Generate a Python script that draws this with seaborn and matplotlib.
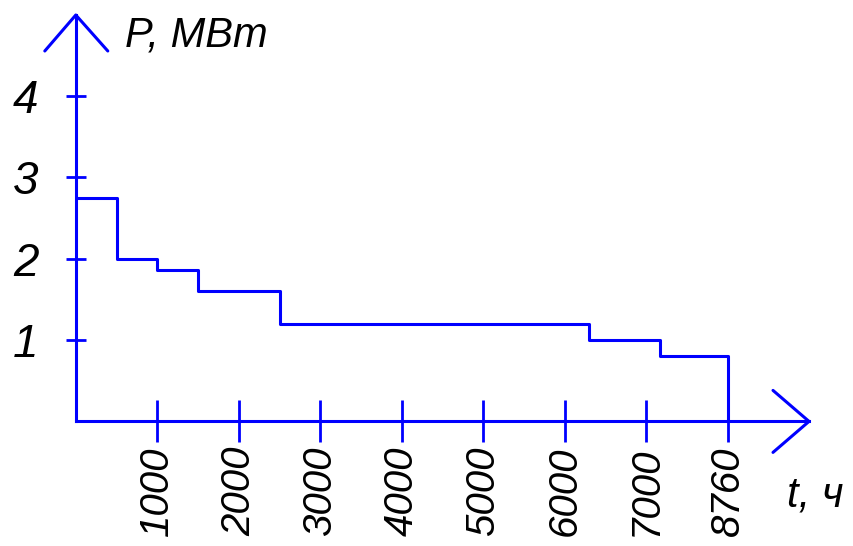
import numpy as np
import pandas as pd
import matplotlib
matplotlib.use("Agg")
import matplotlib.pyplot as plt
from matplotlib import font_manager
import seaborn as sns

# Annual load duration curve of the consumer
hours = [0, 500, 1000, 1500, 2500, 6300, 7300, 8760]
power = [2.74, 2.0, 1.86, 1.6, 1.2, 1.0, 0.8, 0.0]

x_ticks = [1000, 2000, 3000, 4000, 5000, 6000, 7000, 8760]
x_tick_labels = ["1000", "2000", "3000", "4000", "5000", "6000", "7000", "8760"]
y_ticks = [1, 2, 3, 4]
y_tick_labels = ["1", "2", "3", "4"]
y_title = "P, МВт"
x_title = "t, ч"

BLUE = "#0000ff"

sns.set_theme(style="white")
installed = {f.name for f in font_manager.fontManager.ttflist}
families = [n for n in ["Liberation Sans Narrow", "Liberation Sans", "DejaVu Sans"] if n in installed]
plt.rcParams["font.family"] = families
plt.rcParams["font.style"] = "italic"

W, H = 854, 546
fig = plt.figure(figsize=(W / 100, H / 100), dpi=100)

# axes frame in pixels: origin (75.8, 421.4), arrow tips at x=809 and y=15
x0, y0, x1, y1 = 75.8, 421.4, 809.0, 15.0
ax = fig.add_axes([x0 / W, (H - y0) / H, (x1 - x0) / W, (y0 - y1) / H])

# the last stretch of the year (7000..8760 h) is drawn compressed
def fwd(x):
    x = np.asarray(x, dtype=float)
    return np.where(x <= 7000, x, 7000 + (x - 7000) * 1000 / 1760)

def inv(u):
    u = np.asarray(u, dtype=float)
    return np.where(u <= 7000, u, 7000 + (u - 7000) * 1760 / 1000)

ax.set_xscale("function", functions=(fwd, inv))
ax.set_xlim(0, float(inv(8996)))
ax.set_ylim(0, 4.99)

df = pd.DataFrame({"t": hours, "P": power})
sns.lineplot(data=df, x="t", y="P", ax=ax, color=BLUE, lw=2.2,
             drawstyle="steps-post", estimator=None, sort=False, clip_on=False)

for side in ["top", "right"]:
    ax.spines[side].set_visible(False)
for side in ["left", "bottom"]:
    ax.spines[side].set_color(BLUE)
    ax.spines[side].set_linewidth(2.2)

ax.set_xticks(x_ticks)
ax.set_xticklabels(x_tick_labels)
ax.set_yticks(y_ticks)
ax.set_yticklabels(y_tick_labels)
ax.minorticks_off()
ax.tick_params(axis="x", bottom=True, direction="inout", length=30, width=2, color=BLUE,
               pad=3, labelsize=29, labelrotation=90, labelcolor="black")
ax.tick_params(axis="y", left=True, direction="inout", length=14, width=2, color=BLUE,
               pad=20, labelsize=33, labelcolor="black")
ax.set_xlabel("")
ax.set_ylabel("")

# open arrowheads at the ends of both axes
aw, ah = x1 - x0, y0 - y1
ax.plot([-31 / aw, 0, 32 / aw], [1 - 36 / ah, 1, 1 - 36 / ah],
        transform=ax.transAxes, color=BLUE, lw=2.2, clip_on=False)
ax.plot([1 - 36 / aw, 1, 1 - 36 / aw], [31 / ah, 0, -31 / ah],
        transform=ax.transAxes, color=BLUE, lw=2.2, clip_on=False)

ax.text((125 - x0) / aw, (y0 - 47) / ah, y_title, transform=ax.transAxes,
        fontsize=30, ha="left", va="baseline", color="black")
ax.text((787 - x0) / aw, (y0 - 507) / ah, x_title, transform=ax.transAxes,
        fontsize=30, ha="left", va="baseline", color="black")

fig.savefig("out.png", dpi=100)
